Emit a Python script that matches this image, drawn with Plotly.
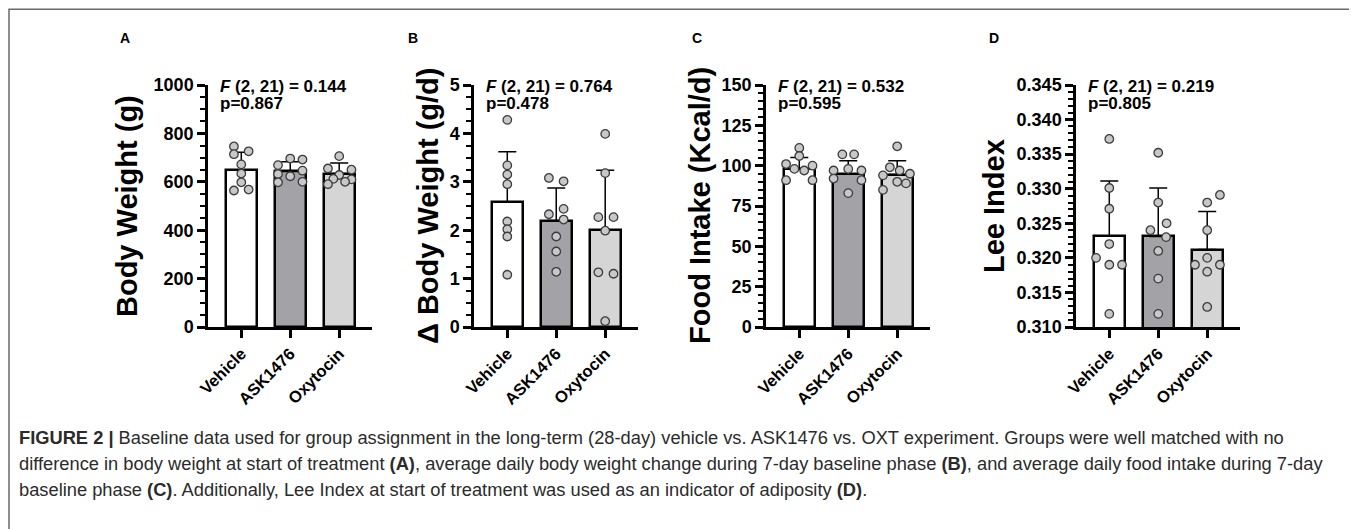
import plotly.graph_objects as go

W, H = 1357, 529
OFF = 8  # the page's default body margin shifts the figure by this many screen pixels

# ---------------- data ----------------
groups = ["Vehicle", "ASK1476", "Oxytocin"]
bar_colors = ["#ffffff", "#a3a3a7", "#d5d5d5"]

# Panel A: Body weight (g)
bw_vehicle = [746, 714, 726, 672, 634, 598, 564, 568]
bw_ask = [669, 696, 692, 632, 623, 646, 598, 600]
bw_oxt = [706, 655, 650, 628, 612, 610, 590, 600]
bw_mean = [650, 643, 634]
bw_sd = [72, 40, 44]

# Panel B: delta body weight (g/d)
dbw_vehicle = [4.28, 3.34, 3.15, 2.95, 2.18, 2.02, 1.87, 1.08]
dbw_ask = [3.08, 3.01, 2.33, 2.44, 2.22, 1.87, 1.56, 1.14]
dbw_oxt = [3.99, 3.18, 2.27, 2.27, 1.99, 1.13, 1.10, 0.12]
dbw_mean = [2.59, 2.20, 2.00]
dbw_sd = [1.03, 0.67, 1.24]

# Panel C: Food intake (Kcal/d)
fi_vehicle = [111, 106, 101, 100, 98, 97, 91, 91]
fi_ask = [107, 107, 97, 98, 97, 92, 91, 83]
fi_oxt = [112, 99, 97, 95, 94, 90, 89, 85]
fi_mean = [98, 95, 94.5]
fi_sd = [7, 8, 8.5]

# Panel D: Lee index
lee_vehicle = [0.3372, 0.3301, 0.3271, 0.3220, 0.3200, 0.3190, 0.3190, 0.3119]
lee_ask = [0.3352, 0.3280, 0.3240, 0.3250, 0.3230, 0.3210, 0.3170, 0.3119]
lee_oxt = [0.3291, 0.3280, 0.3240, 0.3200, 0.3190, 0.3190, 0.3180, 0.3129]
lee_mean = [0.3232, 0.3231, 0.3212]
lee_sd = [0.0079, 0.0070, 0.0055]

# horizontal scatter spread of the dots (category units)
jit_bw = [[-0.15, -0.15, 0.15, 0, 0, 0, -0.15, 0.15],
          [-0.25, 0, 0.25, -0.25, 0, 0.25, -0.25, 0.25],
          [0, -0.23, 0.25, 0, -0.12, 0.25, -0.23, 0.12]]
jit_dbw = [[0, 0, 0, 0, 0, 0, 0, 0],
           [-0.15, 0.15, -0.15, 0.15, 0.15, 0, 0, 0],
           [0, 0, -0.14, 0.17, 0, -0.14, 0.17, 0]]
jit_fi = [[0, 0, -0.27, 0.27, -0.1, 0.1, -0.27, 0.27],
          [-0.12, 0.12, -0.3, 0, 0.27, -0.3, 0.27, 0],
          [0, -0.15, 0.05, 0.26, -0.29, 0, 0.18, -0.29]]
jit_lee = [[0, 0, 0, 0, -0.27, 0, 0.26, 0],
           [0, 0, -0.16, 0.17, 0.16, 0, 0, 0],
           [0.26, 0, 0, 0, -0.25, 0.26, 0, 0]]

panels = [
    dict(letter="A", title="Body Weight (g)", pts=[bw_vehicle, bw_ask, bw_oxt], jit=jit_bw,
         mean=bw_mean, sd=bw_sd, rng=[0, 1000], dtick=200, minor=50, fmt="d",
         F="0.144", p="0.867"),
    dict(letter="B", title="Δ Body Weight (g/d)", pts=[dbw_vehicle, dbw_ask, dbw_oxt], jit=jit_dbw,
         mean=dbw_mean, sd=dbw_sd, rng=[0, 5], dtick=1, minor=0.25, fmt="d",
         F="0.764", p="0.478"),
    dict(letter="C", title="Food Intake (Kcal/d)", pts=[fi_vehicle, fi_ask, fi_oxt], jit=jit_fi,
         mean=fi_mean, sd=fi_sd, rng=[0, 150], dtick=25, minor=5, fmt="d",
         F="0.532", p="0.595"),
    dict(letter="D", title="Lee Index", pts=[lee_vehicle, lee_ask, lee_oxt], jit=jit_lee,
         mean=lee_mean, sd=lee_sd, rng=[0.310, 0.345], dtick=0.005, minor=0.001, fmt=".3f",
         F="0.219", p="0.805"),
]

# ---------------- layout geometry (screen pixels) ----------------
axis_x0 = [208, 474, 766, 1076]
plot_w = 164
plot_top, plot_bot = 85, 327
title_x = [127, 428, 700, 994]
letter_x = [125, 413, 697, 994]


def fx(px):
    return (px - OFF) / W


def fy(py):
    return 1 - (py - OFF) / H


FONT = "Arial, Liberation Sans, sans-serif"
fig = go.Figure()
annotations = []

for i, pnl in enumerate(panels):
    n = "" if i == 0 else str(i + 1)
    xa, ya = "x" + n, "y" + n
    fig.add_trace(go.Bar(
        x=[0, 1, 2], y=pnl["mean"], width=0.64,
        marker=dict(color=bar_colors, line=dict(color="black", width=2.5)),
        error_y=dict(type="data", array=pnl["sd"], arrayminus=[0, 0, 0], symmetric=False,
                     color="black", thickness=1.5, width=9),
        xaxis=xa, yaxis=ya, showlegend=False, hoverinfo="skip"))
    for g in range(3):
        vals = pnl["pts"][g]
        xs = [g + j for j in pnl["jit"][g]]
        fig.add_trace(go.Scatter(
            x=xs, y=vals, mode="markers",
            marker=dict(size=8.5, color="#c8c8c8", line=dict(color="#3c3c3c", width=1.3)),
            xaxis=xa, yaxis=ya, showlegend=False, hoverinfo="skip", cliponaxis=False))

    x0 = axis_x0[i]
    fig.layout["xaxis" + n] = dict(
        domain=[fx(x0), fx(x0 + plot_w)], anchor=ya, range=[-0.68, 2.67],
        tickvals=[0, 1, 2], ticktext=groups, tickangle=-45,
        showline=True, linecolor="black", linewidth=2.5,
        ticks="outside", ticklen=8, tickwidth=2.5, tickcolor="black",
        tickfont=dict(family=FONT, size=16.5, color="black", weight="bold"),
        showgrid=False, zeroline=False, fixedrange=True, automargin=False)
    fig.layout["yaxis" + n] = dict(
        domain=[fy(plot_bot), fy(plot_top)], anchor=xa, range=pnl["rng"],
        dtick=pnl["dtick"], tick0=pnl["rng"][0], tickformat=pnl["fmt"],
        showline=True, linecolor="black", linewidth=2.5,
        ticks="outside", ticklen=8, tickwidth=2.5, tickcolor="black",
        minor=dict(dtick=pnl["minor"], tick0=pnl["rng"][0], ticks="outside", ticklen=5,
                   tickwidth=2, tickcolor="black", showgrid=False),
        tickfont=dict(family=FONT, size=18, color="black", weight="bold"),
        showgrid=False, zeroline=False, fixedrange=True, automargin=False)

    annotations.append(dict(
        text="<b>" + pnl["title"] + "</b>", textangle=-90, x=fx(title_x[i]), y=fy(206),
        xref="paper", yref="paper", xanchor="center", yanchor="middle", showarrow=False,
        font=dict(family=FONT, size=29, color="black")))
    annotations.append(dict(
        text="<b>" + pnl["letter"] + "</b>", x=fx(letter_x[i]), y=fy(38),
        xref="paper", yref="paper", xanchor="center", yanchor="middle", showarrow=False,
        font=dict(family=FONT, size=14, color="black")))
    annotations.append(dict(
        text="<b><i>F</i> (2, 21) = " + pnl["F"] + "</b>", x=fx(x0 + 10), y=fy(87),
        xref="paper", yref="paper", xanchor="left", yanchor="middle", showarrow=False,
        font=dict(family=FONT, size=17, color="black")))
    annotations.append(dict(
        text="<b>p=" + pnl["p"] + "</b>", x=fx(x0 + 10), y=fy(104),
        xref="paper", yref="paper", xanchor="left", yanchor="middle", showarrow=False,
        font=dict(family=FONT, size=17, color="black")))

caption = [
    "<b>FIGURE 2 |</b> Baseline data used for group assignment in the long-term (28-day) vehicle vs. "
    "ASK1476 vs. OXT experiment. Groups were well matched with no",
    "difference in body weight at start of treatment <b>(A)</b>, average daily body weight change during "
    "7-day baseline phase <b>(B)</b>, and average daily food intake during 7-day",
    "baseline phase <b>(C)</b>. Additionally, Lee Index at start of treatment was used as an indicator "
    "of adiposity <b>(D)</b>.",
]
for k, line in enumerate(caption):
    annotations.append(dict(
        text=line, x=fx(17), y=fy(437 + 26 * k), xref="paper", yref="paper",
        xanchor="left", yanchor="middle", showarrow=False,
        font=dict(family=FONT, size=18.3, color="#2b2b2b")))

fig.update_layout(
    width=W, height=H, autosize=False,
    margin=dict(l=0, r=0, t=0, b=0, pad=0),
    paper_bgcolor="white", plot_bgcolor="white",
    annotations=annotations,
    shapes=[dict(type="rect", xref="paper", yref="paper",
                 x0=fx(9), x1=fx(1355.5), y0=fy(560), y1=fy(9.2),
                 line=dict(color="#6a6a6a", width=1.5), fillcolor="rgba(0,0,0,0)")],
    bargap=0,
)

fig.write_html("out.html")
